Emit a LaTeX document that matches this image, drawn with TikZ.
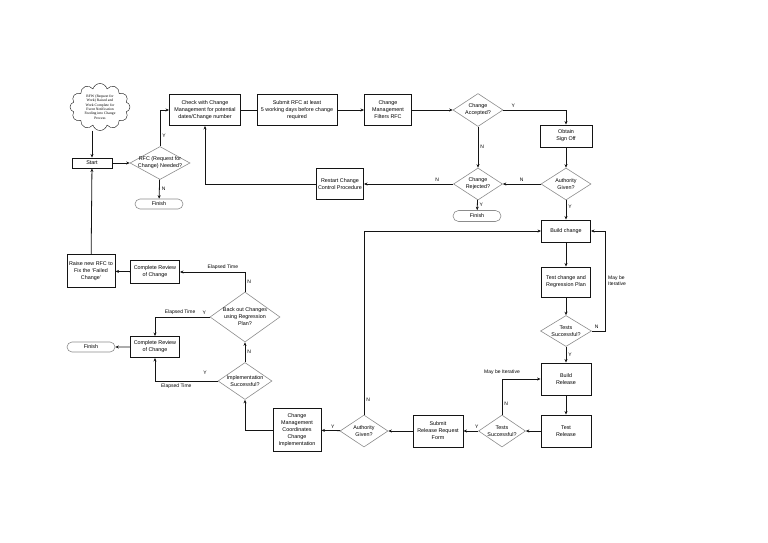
\documentclass[tikz,border=0pt]{standalone}
\usepackage{fontspec}
\setmainfont{Liberation Sans}
\newfontfamily\cloudfont{Liberation Serif}
\usetikzlibrary{arrows.meta, calc, positioning, shapes.geometric, shapes.misc, shapes.symbols}
\definecolor{linecol}{RGB}{20, 20, 20}
\definecolor{deccol}{RGB}{140, 140, 140}
\tikzset{
  blk/.style   = {draw=linecol, line width=0.9pt, align=center,
                  font=\fontsize{5.4}{7}\selectfont, inner sep=1pt},
  dec/.style   = {diamond, draw=deccol, line width=0.6pt, inner sep=0pt},
  dtxt/.style  = {align=center, font=\fontsize{5.4}{7}\selectfont, inner sep=0pt},
  term/.style  = {rounded rectangle, draw=deccol, line width=0.6pt,
                  minimum width=48pt, minimum height=10pt, inner sep=0pt,
                  font=\fontsize{5.4}{7}\selectfont},
  lbl/.style   = {font=\fontsize{5}{6}\selectfont, inner sep=2pt},
  flow/.style  = {-{Stealth[length=3.5pt, width=3pt]}, draw=linecol, line width=0.8pt},
  link/.style  = {draw=linecol, line width=0.8pt},
}
\begin{document}
\begin{tikzpicture}[x=1pt, y=-1pt]
  \useasboundingbox (0,0) rectangle (768,543);

  %% ---------------- request and first check ----------------
  \node[cloud, draw=linecol, cloud puffs=12, aspect=1.25, inner sep=-1pt,
        minimum width=60pt, minimum height=47pt, align=center,
        font=\cloudfont\fontsize{3.7}{4.3}\selectfont] (rfw) at (100,107)
       {RFW (Request for\\Work) Raised and\\Work Complete for\\Event Notification\\Feeding into Change\\Process};
  \node[blk, minimum width=40pt, minimum height=10pt] (start) at (92,163) {Start};
  \node[dec, minimum width=60pt, minimum height=33pt,
        label={[dtxt]center:RFC (Request for\\Change) Needed?}] (rfc) at (160,163) {};
  \node[term] (fin1) at (159,204) {Finish};

  \node[blk, minimum width=71pt, minimum height=31pt] (chk) at (205,110)
       {Check with Change\\Management for potential\\dates/Change number};
  \node[blk, minimum width=80pt, minimum height=31pt] (sub) at (297,110)
       {Submit RFC at least\\5 working days before change\\required};
  \node[blk, minimum width=47pt, minimum height=31pt] (filt) at (388,110)
       {Change\\Management\\Filters RFC};

  %% ---------------- acceptance ----------------
  \node[dec, minimum width=50pt, minimum height=33pt,
        label={[dtxt]center:Change\\Accepted?}] (acc) at (478,110) {};
  \node[blk, minimum width=52pt, minimum height=22pt] (sign) at (566,136)
       {Obtain\\Sign Off};
  \node[dec, minimum width=50pt, minimum height=32pt,
        label={[dtxt]center:Authority\\Given?}] (auth1) at (566,184) {};
  \node[dec, minimum width=49pt, minimum height=32pt,
        label={[dtxt]center:Change\\Rejected?}] (rej) at (478,184) {};
  \node[term, minimum height=11pt] (fin2) at (477,216) {Finish};
  \node[blk, minimum width=47pt, minimum height=31pt] (rst) at (340,184)
       {Restart Change\\Control Procedure};

  %% ---------------- build and release ----------------
  \node[blk, minimum width=49pt, minimum height=22pt] (bld) at (566,231) {Build change};
  \node[blk, minimum width=49pt, minimum height=30pt] (tst) at (566,282)
       {Test change and\\Regression Plan};
  \node[dec, minimum width=51pt, minimum height=31pt,
        label={[dtxt]center:Tests\\Successful?}] (ts1) at (566,331) {};
  \node[blk, minimum width=50pt, minimum height=32pt] (brel) at (566,379) {Build\\Release};
  \node[blk, minimum width=50pt, minimum height=32pt] (trel) at (566,431) {Test\\Release};
  \node[dec, minimum width=47pt, minimum height=32pt,
        label={[dtxt]center:Tests\\Successful?}] (ts2) at (502,431) {};
  \node[blk, minimum width=50pt, minimum height=32pt] (srr) at (438,431)
       {Submit\\Release Request\\Form};
  \node[dec, minimum width=48pt, minimum height=32pt,
        label={[dtxt]center:Authority\\Given?}] (auth2) at (364,431) {};
  \node[blk, minimum width=48pt, minimum height=43pt] (coord) at (297,430)
       {Change\\Management\\Coordinates\\Change\\Implementation};

  %% ---------------- implementation and back out ----------------
  \node[dec, minimum width=54pt, minimum height=37pt,
        label={[dtxt]center:Implementation\\Successful?}] (impl) at (245,381) {};
  \node[dec, minimum width=70pt, minimum height=50pt,
        label={[dtxt]center:Back out Changes\\using Regression\\Plan?}] (back) at (245,317) {};
  \node[blk, minimum width=49pt, minimum height=23pt] (rev1) at (155,272)
       {Complete Review\\of Change};
  \node[blk, minimum width=48pt, minimum height=33pt] (raise) at (91,271)
       {Raise new RFC to\\Fix the `Failed\\Change'};
  \node[blk, minimum width=49pt, minimum height=21pt] (rev2) at (155,347)
       {Complete Review\\of Change};
  \node[term] (fin3) at (91,347) {Finish};

  \coordinate (iter) at ($(ts1.east)+(14,0)$);

  %% ---------------- connectors ----------------
  \draw[flow] (rfw.south -| start) -- (start);
  \draw[flow] (start) -- (rfc);
  \draw[flow] (rfc.north) |- node[lbl, pos=0.15, right] {Y} (chk.west);
  \draw[flow] (rfc) -- node[lbl, right] {N} (fin1);
  \draw[link] (chk) -- (sub);
  \draw[flow] (sub) -- (filt);
  \draw[flow] (filt) -- (acc);
  \draw[flow] (acc.east) -| node[lbl, pos=0.08, above] {Y} (sign.north);
  \draw[flow] (acc) -- node[lbl, right] {N} (rej);
  \draw[flow] (sign) -- (auth1);
  \draw[flow] (auth1) -- node[lbl, above] {N} (rej);
  \draw[flow] (auth1) -- node[lbl, right, pos=0.35] {Y} (bld);
  \draw[flow] (rej) -- node[lbl, right] {Y} (fin2);
  \draw[flow] (rej) -- node[lbl, above, pos=0.18] {N} (rst);
  \draw[flow] (rst.west) -| (chk.south);

  \draw[flow] (bld) -- (tst);
  \draw[flow] (tst) -- (ts1);
  \draw[link] (ts1.east) -- node[lbl, above, pos=0.35] {N} (iter);
  \draw[flow] (iter) |- node[lbl, pos=0.25, right, align=left] {May be\\Iterative} (bld.east);
  \draw[flow] (ts1) -- node[lbl, right] {Y} (brel);
  \draw[flow] (brel) -- (trel);
  \draw[flow] (trel) -- (ts2);
  \draw[flow] (ts2.north) |- node[lbl, pos=0.15, right] {N}
                             node[lbl, pos=0.5, above=2pt] {May be Iterative} (brel.west);
  \draw[flow] (ts2) -- node[lbl, above, pos=0.1] {Y} (srr);
  \draw[flow] (srr) -- (auth2);
  \draw[flow] (auth2) -- node[lbl, above, pos=0.4] {Y} (coord);
  \draw[flow] (auth2.north) |- node[lbl, pos=0.04, right] {N} (bld.west);

  \draw[flow] (coord.west) -| (impl.south);
  \draw[flow] (impl) -- node[lbl, right] {N} (back);
  \draw[flow] (back.north) |- node[lbl, pos=0.25, right] {N}
                              node[lbl, pos=0.67, above] {Elapsed Time} (rev1.east);
  \draw[flow] (rev1) -- (raise);
  \draw[flow] (raise) -- (start);
  \draw[flow] (back.west) -| node[lbl, pos=0.05, above] {Y}
                             node[lbl, pos=0.27, above] {Elapsed Time} (rev2.north);
  \draw[flow] (impl.west) -| node[lbl, pos=0.1, above=4pt] {Y}
                             node[lbl, pos=0.33, below] {Elapsed Time} (rev2.south);
  \draw[flow] (rev2) -- (fin3);

\end{tikzpicture}
\end{document}
